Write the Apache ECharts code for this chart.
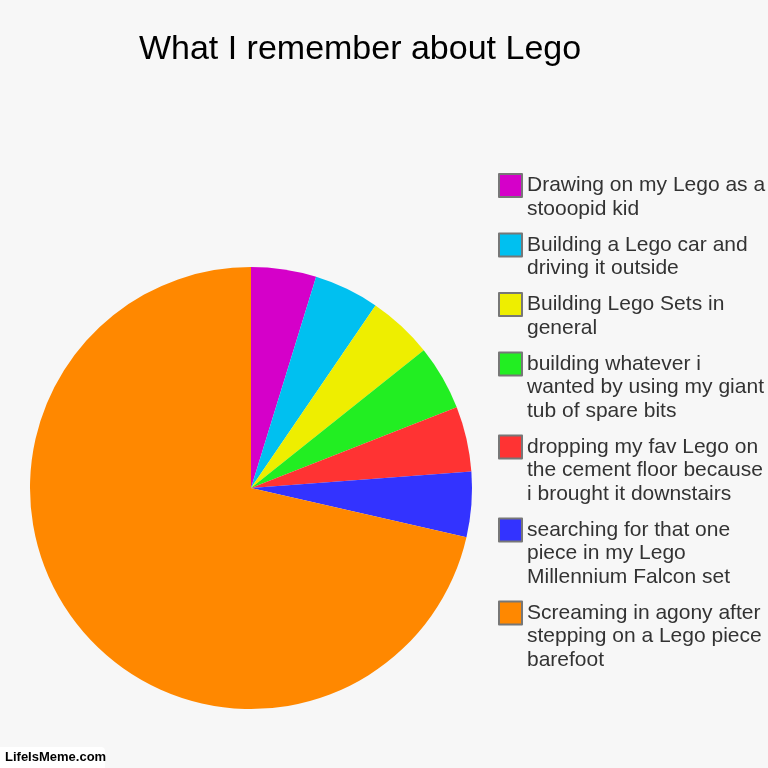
<!DOCTYPE html>
<html>
<head>
<meta charset="utf-8">
<script src="https://cdn.jsdelivr.net/npm/echarts@6/dist/echarts.min.js"></script>
<style>
html,body{margin:0;padding:0;background:#f7f7f7;}
#chart{width:768px;height:768px;}
</style>
</head>
<body>
<div id="chart"></div>
<script>
var chartTitle = 'What I remember about Lego';
var categories = [
  'Drawing on my Lego as a stooopid kid',
  'Building a Lego car and driving it outside',
  'Building Lego Sets in general',
  'building whatever i wanted by using my giant tub of spare bits',
  'dropping my fav Lego on the cement floor because i brought it downstairs',
  'searching for that one piece in my Lego Millennium Falcon set',
  'Screaming in agony after stepping on a Lego piece barefoot'
];
var legendLabels = [
  'Drawing on my Lego as a\nstooopid kid',
  'Building a Lego car and\ndriving it outside',
  'Building Lego Sets in\ngeneral',
  'building whatever i\nwanted by using my giant\ntub of spare bits',
  'dropping my fav Lego on\nthe cement floor because\ni brought it downstairs',
  'searching for that one\npiece in my Lego\nMillennium Falcon set',
  'Screaming in agony after\nstepping on a Lego piece\nbarefoot'
];
var values = [1, 1, 1, 1, 1, 1, 15];
var colors = ['#d500c9', '#00c0f0', '#eeee00', '#22ee22', '#ff3333', '#3333ff', '#ff8800'];

var LH = 23.5, GAP = 12.5, ICON = 23, FS = 21;
var legends = [];
var y = 174;
for (var i = 0; i < categories.length; i++) {
  var n = legendLabels[i].split('\n').length;
  (function (idx, nLines) {
    var pad = new Array(nLines).join('\n');
    legends.push({
      orient: 'vertical',
      left: 498,
      top: y + ICON / 2 - (2 * nLines - 1) * LH / 2,
      padding: 0,
      itemWidth: ICON,
      itemHeight: ICON,
      itemGap: 0,
      selectedMode: false,
      icon: 'rect',
      data: [categories[idx]],
      formatter: function () { return pad + legendLabels[idx]; },
      itemStyle: { borderColor: '#777777', borderWidth: 2 },
      textStyle: {
        fontFamily: 'Liberation Sans, Arial, sans-serif',
        fontSize: FS,
        lineHeight: LH,
        color: '#333333'
      }
    });
  })(i, n);
  y += n * LH + GAP;
}

var chart = echarts.init(document.getElementById('chart'), null, { renderer: 'canvas' });
chart.setOption({
  backgroundColor: '#f7f7f7',
  animation: false,
  title: {
    text: chartTitle,
    left: 355,
    top: 28,
    textAlign: 'center',
    textStyle: {
      fontFamily: 'Liberation Sans, Arial, sans-serif',
      fontSize: 34,
      fontWeight: 'normal',
      color: '#000000'
    }
  },
  legend: legends,
  series: [{
    type: 'pie',
    center: [251, 488],
    radius: 221,
    startAngle: 90,
    clockwise: true,
    label: { show: false },
    labelLine: { show: false },
    emphasis: { disabled: true },
    data: categories.map(function (c, i) {
      return { name: c, value: values[i], itemStyle: { color: colors[i] } };
    })
  }],
  graphic: [
    {
      type: 'rect',
      left: 0,
      bottom: 0,
      shape: { width: 105, height: 21, r: [0, 4, 0, 0] },
      style: { fill: '#ffffff' }
    },
    {
      type: 'text',
      left: 5,
      bottom: 4,
      style: {
        text: 'LifeIsMeme.com',
        fill: '#000000',
        font: 'bold 13px "Liberation Sans", sans-serif'
      }
    }
  ]
});
</script>
</body>
</html>
